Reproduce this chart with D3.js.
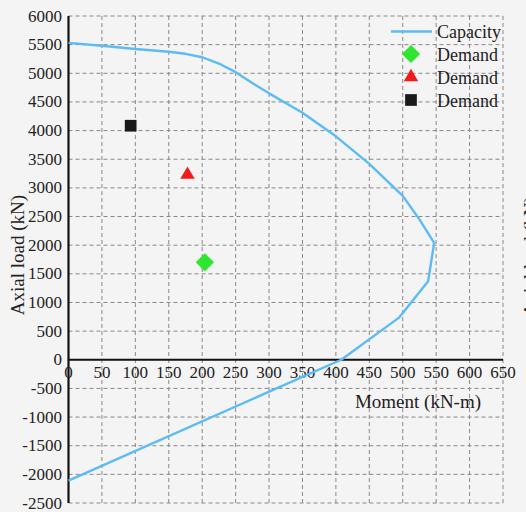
<!doctype html>
<html lang="en">
  <head>
    <meta charset="utf-8">
    <title>Interaction diagram</title>
    <script src="https://d3js.org/d3.v7.min.js"></script>
    <style>
      body { margin: 0; background: #f4f4f4; }
    </style>
  </head>

  <body>
    <svg width="526" height="512"></svg>
    <script>
      // capacity curve (moment kN-m, axial kN)
      var capMoment = [0, 50, 100, 150, 175, 200, 225, 250, 275, 300, 350, 400, 450, 500, 525, 547, 538, 495, 408, 0];
      var capAxial  = [5530, 5480, 5425, 5375, 5340, 5280, 5170, 5020, 4830, 4650, 4310, 3900, 3420, 2860, 2450, 2040, 1370, 740, 0, -2110];

      // demand points
      var demandNames  = ['green', 'red', 'black'];
      var demandMoment = [204, 178, 93];
      var demandAxial  = [1700, 3230, 4085];

      var xTicks = d3.range(0, 651, 50);
      var yTicks = d3.range(-2500, 6001, 500);

      var serif = '"Liberation Serif", "Times New Roman", serif';

      var svg = d3.select('svg').style('font-family', serif);

      var x = d3.scaleLinear().domain([0, 650]).range([68.5, 503]);
      var y = d3.scaleLinear().domain([-2500, 6000]).range([503, 16]);

      var grid = svg.append('g')
        .attr('stroke', '#888')
        .attr('stroke-width', 1)
        .attr('stroke-dasharray', '4,3');

      grid.selectAll('.vx').data(xTicks.slice(1)).enter()
        .append('line')
          .attr('x1', function(d){ return x(d); })
          .attr('x2', function(d){ return x(d); })
          .attr('y1', y(6000))
          .attr('y2', y(-2500));

      grid.selectAll('.hy').data(yTicks.filter(function(d){ return d !== 0; })).enter()
        .append('line')
          .attr('x1', x(0))
          .attr('x2', x(650))
          .attr('y1', function(d){ return y(d); })
          .attr('y2', function(d){ return y(d); });

      // axes lines
      svg.append('line')
        .attr('x1', x(0)).attr('x2', x(0))
        .attr('y1', y(6000)).attr('y2', y(-2500))
        .attr('stroke', '#111').attr('stroke-width', 2.2);
      svg.append('line')
        .attr('x1', x(0)).attr('x2', x(650))
        .attr('y1', y(0)).attr('y2', y(0))
        .attr('stroke', '#111').attr('stroke-width', 2.2);

      // tick labels
      svg.selectAll('.xl').data(xTicks).enter()
        .append('text')
          .attr('x', function(d){ return x(d); })
          .attr('y', y(0) + 18)
          .attr('text-anchor', 'middle')
          .attr('fill', '#222')
          .style('font-size', '17px')
          .text(function(d){ return d; });

      svg.selectAll('.yl').data(yTicks).enter()
        .append('text')
          .attr('x', 62)
          .attr('y', function(d){ return y(d) + 5.5; })
          .attr('text-anchor', 'end')
          .attr('fill', '#222')
          .style('font-size', '17px')
          .text(function(d){ return d; });

      // axis titles
      svg.append('text')
        .attr('x', 418).attr('y', 408)
        .attr('text-anchor', 'middle')
        .attr('fill', '#222')
        .style('font-size', '19px')
        .text('Moment (kN-m)');

      svg.append('text')
        .attr('transform', 'translate(24,255) rotate(-90)')
        .attr('text-anchor', 'middle')
        .attr('fill', '#222')
        .style('font-size', '19px')
        .text('Axial load (kN)');

      // cut-off title of the neighbouring chart
      svg.append('text')
        .attr('transform', 'translate(537,256) rotate(-90)')
        .attr('text-anchor', 'middle')
        .attr('fill', '#222')
        .style('font-size', '19px')
        .text('Axial load (kN)');

      // capacity curve
      var capData = capMoment.map(function(m, i){ return [m, capAxial[i]]; });

      svg.append('path')
        .datum(capData)
        .attr('d', d3.line()
          .x(function(d){ return x(d[0]); })
          .y(function(d){ return y(d[1]); }))
        .attr('fill', 'none')
        .attr('stroke', '#5bbcf5')
        .attr('stroke-width', 2.4)
        .attr('stroke-linejoin', 'round');

      // demand markers
      var shapes = {
        green: { type: d3.symbolSquare, size: 165, rot: 45, color: '#2ee62e' },
        red:   { type: d3.symbolTriangle, size: 90, rot: 0, color: '#f21b1b' },
        black: { type: d3.symbolSquare, size: 137, rot: 0, color: '#1a1a1a' }
      };

      svg.selectAll('.dm').data(demandNames).enter()
        .append('path')
          .attr('transform', function(d, i){
            return 'translate(' + x(demandMoment[i]) + ',' + y(demandAxial[i]) + ') rotate(' + shapes[d].rot + ')';
          })
          .attr('d', function(d){ return d3.symbol().type(shapes[d].type).size(shapes[d].size)(); })
          .attr('fill', function(d){ return shapes[d].color; });

      // legend
      var legend = svg.append('g').attr('transform', 'translate(390,0)');
      legend.append('line')
        .attr('x1', 1).attr('x2', 42)
        .attr('y1', 31.5).attr('y2', 31.5)
        .attr('stroke', '#5bbcf5').attr('stroke-width', 2.4);
      legend.append('text')
        .attr('x', 47).attr('y', 37.5)
        .attr('fill', '#222')
        .style('font-size', '18px')
        .text('Capacity');

      legend.selectAll('.lg').data(demandNames).enter()
        .append('path')
          .attr('transform', function(d, i){
            return 'translate(21,' + (54 + i * 23) + ') rotate(' + shapes[d].rot + ')';
          })
          .attr('d', function(d){ return d3.symbol().type(shapes[d].type).size(shapes[d].size)(); })
          .attr('fill', function(d){ return shapes[d].color; });

      legend.selectAll('.lt').data(demandNames).enter()
        .append('text')
          .attr('x', 47)
          .attr('y', function(d, i){ return 60.5 + i * 23; })
          .attr('fill', '#222')
          .style('font-size', '18px')
          .text('Demand');
    </script>
  </body>
</html>
